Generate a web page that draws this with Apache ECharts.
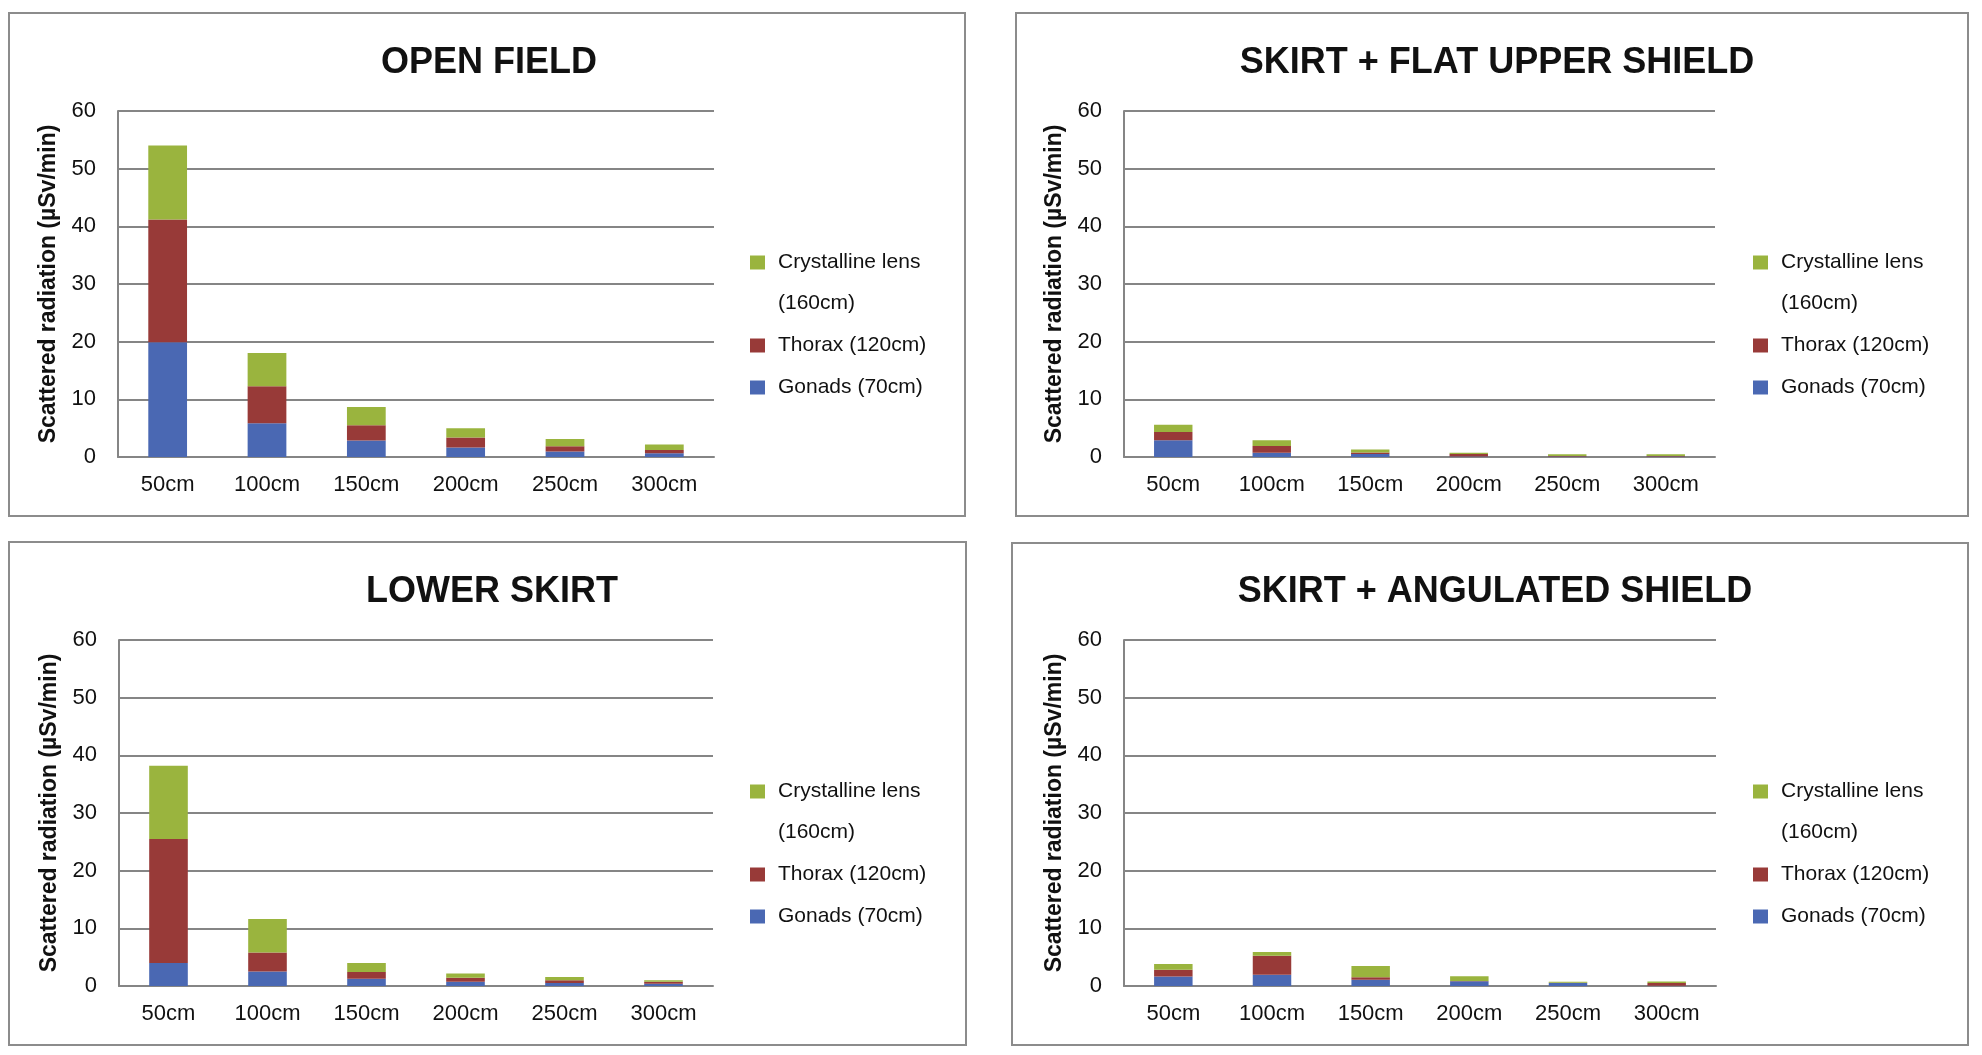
<!DOCTYPE html>
<html>
<head>
<meta charset="utf-8">
<script src="https://cdn.jsdelivr.net/npm/echarts@6/dist/echarts.min.js"></script>
<style>
html,body{margin:0;padding:0;background:#fff;}
#c{width:1982px;height:1055px;}
</style>
</head>
<body>
<div id="c"></div>
<script>
// ---- data ----
var categories = ['50cm', '100cm', '150cm', '200cm', '250cm', '300cm'];
var seriesNames = ['Gonads (70cm)', 'Thorax (120cm)', 'Crystalline lens\n(160cm)'];
var panelTitles = ['OPEN FIELD', 'SKIRT + FLAT UPPER SHIELD', 'LOWER SKIRT', 'SKIRT + ANGULATED SHIELD'];
var yTicks = [0, 60, 10]; // min, max, interval

var openGonads = [19.9, 5.85, 2.87, 1.64, 0.94, 0.64];
var openThorax = [21.3, 6.4, 2.63, 1.75, 0.93, 0.59];
var openLens   = [12.8, 5.8, 3.15, 1.58, 1.23, 0.93];

var flatGonads = [2.9, 0.75, 0.5, 0.1, 0.08, 0.08];
var flatThorax = [1.45, 1.15, 0.3, 0.4, 0.08, 0.1];
var flatLens   = [1.25, 1.0, 0.5, 0.25, 0.3, 0.28];

var lowerGonads = [4.0, 2.5, 1.27, 0.75, 0.52, 0.4];
var lowerThorax = [21.5, 3.3, 1.16, 0.7, 0.46, 0.35];
var lowerLens   = [12.7, 5.8, 1.56, 0.7, 0.58, 0.23];

var angGonads = [1.64, 1.93, 1.1, 0.82, 0.5, 0.05];
var angThorax = [1.16, 3.33, 0.4, 0.05, 0.05, 0.45];
var angLens   = [1.0, 0.64, 1.95, 0.8, 0.2, 0.26];

var panelData = [
  [openGonads, openThorax, openLens],
  [flatGonads, flatThorax, flatLens],
  [lowerGonads, lowerThorax, lowerLens],
  [angGonads, angThorax, angLens]
];

// ---- layout / style ----
var colors = ['#4A68B3', '#983A38', '#9AB43E'];
var FONT = '"Liberation Sans", Arial, sans-serif';
var gridColor = '#858585';

var panels = [
  {box: [9, 13, 956, 503],    grid: [118, 111, 596, 346],  title: [484, 40],  legend: [750, 201]},
  {box: [1016, 13, 952, 503], grid: [1124, 111, 591, 346], title: [1492, 40], legend: [1753, 201]},
  {box: [9, 542, 957, 503],   grid: [119, 640, 594, 346],  title: [487, 569], legend: [750, 730]},
  {box: [1012, 543, 956, 502], grid: [1124, 640, 592, 346], title: [1490, 569], legend: [1753, 730]}
];

var option = {
  animation: false,
  backgroundColor: '#fff',
  color: colors,
  title: [], grid: [], xAxis: [], yAxis: [], legend: [], series: [],
  graphic: []
};

panels.forEach(function (p, i) {
  option.graphic.push({
    type: 'rect', silent: true, z: -10,
    shape: {x: p.box[0], y: p.box[1], width: p.box[2], height: p.box[3]},
    style: {fill: '#fff', stroke: '#8c8c8c', lineWidth: 2}
  });
  option.title.push({
    text: panelTitles[i],
    left: p.title[0], top: p.title[1], textAlign: 'center',
    textStyle: {fontFamily: FONT, fontWeight: 'bold', fontSize: 36, color: '#111'}
  });
  option.grid.push({left: p.grid[0], top: p.grid[1], width: p.grid[2], height: p.grid[3], containLabel: false});
  option.xAxis.push({
    type: 'category', gridIndex: i, data: categories,
    axisLine: {show: true, lineStyle: {color: gridColor, width: 2}},
    axisTick: {show: false},
    axisLabel: {interval: 0, fontFamily: FONT, fontSize: 22, color: '#111', margin: 17}
  });
  option.yAxis.push({
    type: 'value', gridIndex: i, min: yTicks[0], max: yTicks[1], interval: yTicks[2],
    name: 'Scattered radiation (µSv/min)', nameLocation: 'middle', nameGap: 58,
    nameTextStyle: {fontFamily: FONT, fontWeight: 'bold', fontSize: 23, color: '#111'},
    axisLine: {show: true, lineStyle: {color: gridColor, width: 2}},
    axisTick: {show: false},
    splitLine: {show: true, lineStyle: {color: gridColor, width: 2}},
    axisLabel: {fontFamily: FONT, fontSize: 22, color: '#111', margin: 22}
  });
  option.legend.push({
    orient: 'vertical', left: p.legend[0], top: p.legend[1], padding: 0,
    itemWidth: 15, itemHeight: 14, itemGap: 1,
    icon: 'rect', selectedMode: false,
    formatter: function (name) {
      // blank first line keeps the swatch level with "Crystalline lens"
      return name === seriesNames[2] ? '\u00a0\n' + name : name;
    },
    textStyle: {fontFamily: FONT, fontSize: 21, color: '#111', lineHeight: 41, padding: [0, 0, 0, 8]},
    data: [seriesNames[2], seriesNames[1], seriesNames[0]]
  });
  for (var s = 0; s < 3; s++) {
    option.series.push({
      type: 'bar', name: seriesNames[s], stack: 'p' + i,
      xAxisIndex: i, yAxisIndex: i,
      barWidth: '39%',
      itemStyle: {color: colors[s]},
      data: panelData[i][s]
    });
  }
});

var chart = echarts.init(document.getElementById('c'), null, {renderer: 'canvas'});
chart.setOption(option);
</script>
</body>
</html>
